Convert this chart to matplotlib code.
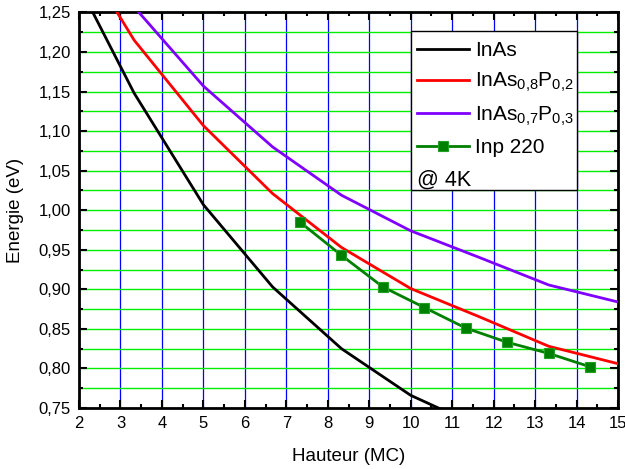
import numpy as np
import matplotlib
matplotlib.use('Agg')
import matplotlib.pyplot as plt
from matplotlib.ticker import MultipleLocator, FuncFormatter
from matplotlib.patches import Rectangle

plt.rcParams['font.family'] = ['Liberation Sans', 'DejaVu Sans']
plt.rcParams['mathtext.fontset'] = 'custom'
plt.rcParams['mathtext.rm'] = 'Liberation Sans'
plt.rcParams['mathtext.it'] = 'Liberation Sans'
plt.rcParams['mathtext.default'] = 'regular'

# hauteur (MC) / energie (eV)
h_inas = [1.67, 3.33, 5.0, 6.67, 8.33, 10.0, 11.67]
e_inas = [1.318, 1.148, 1.007, 0.903, 0.825, 0.766, 0.726]

h_p02 = [1.67, 3.33, 5.0, 6.67, 8.33, 10.0, 11.67, 13.33, 15.0]
e_p02 = [1.357, 1.215, 1.107, 1.021, 0.953, 0.901, 0.865, 0.828, 0.806]

h_p03 = [3.33, 5.0, 6.67, 8.33, 10.0, 11.67, 13.33, 15.0]
e_p03 = [1.257, 1.157, 1.080, 1.019, 0.974, 0.940, 0.9055, 0.884]

h_inp = [7.33, 8.33, 9.33, 10.33, 11.33, 12.33, 13.33, 14.33]
e_inp = [0.985, 0.943, 0.903, 0.877, 0.851, 0.833, 0.819, 0.802]

labels = ['InAs', r'InAs$_{0{,}8}$P$_{0{,}2}$', r'InAs$_{0{,}7}$P$_{0{,}3}$', 'Inp 220']

fig = plt.figure(figsize=(6.25, 4.69), dpi=100)
ax = fig.add_axes([0.1264, 0.1301, 0.8624, 0.8433])

ax.plot(h_inas, e_inas, color='black', lw=2, label=labels[0], zorder=3)
ax.plot(h_p02, e_p02, color='#ff0000', lw=2, label=labels[1], zorder=3)
ax.plot(h_p03, e_p03, color='#8000ff', lw=2, label=labels[2], zorder=3)
ax.plot(h_inp, e_inp, color='#008000', lw=2, marker='s', ms=6.5,
        mec='#22a022', mew=0.8, label=labels[3], zorder=4)

ax.set_xlim(2, 15)
ax.set_ylim(0.75, 1.25)
ax.xaxis.set_major_locator(MultipleLocator(1))
ax.xaxis.set_minor_locator(MultipleLocator(0.5))
ax.yaxis.set_major_locator(MultipleLocator(0.05))
ax.yaxis.set_minor_locator(MultipleLocator(0.025))
ax.xaxis.set_major_formatter(FuncFormatter(lambda v, p: f'{v:g}'))
ax.yaxis.set_major_formatter(FuncFormatter(lambda v, p: f'{v:.2f}'.replace('.', ',')))

ax.grid(which='both', axis='y', color='#00ee00', lw=1.0, zorder=1)
ax.grid(which='major', axis='x', color='#0000ff', lw=0.9, zorder=1)
ax.set_axisbelow(True)

ax.tick_params(which='both', direction='in', top=True, right=True, width=1.5,
               labelsize=12)
ax.tick_params(which='major', length=6, pad=6)
ax.tick_params(which='minor', length=3)
for sp in ax.spines.values():
    sp.set_linewidth(2)

ax.set_xlabel('Hauteur (MC)', fontsize=13.5, labelpad=12)
ax.set_ylabel('Energie (eV)', fontsize=13.5, labelpad=10)

# cadre de la legende + mention de temperature
ax.add_patch(Rectangle((0.616, 0.551), 0.308, 0.402, transform=ax.transAxes,
                       facecolor='white', edgecolor='black', lw=1, zorder=5))
leg = ax.legend(loc='upper left', bbox_to_anchor=(0.607, 0.953), frameon=False,
                fontsize=15, handlelength=2.5, handletextpad=0.3,
                labelspacing=0.5, borderpad=0.5, borderaxespad=0, numpoints=1)
leg.set_zorder(6)
ax.text(0.627, 0.577, '@ 4K', transform=ax.transAxes, fontsize=15.5,
        va='center', ha='left', zorder=7)

fig.savefig('out.png', dpi=100)
